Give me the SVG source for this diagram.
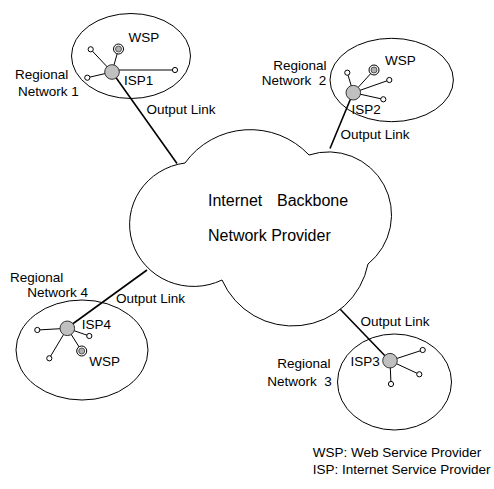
<svg xmlns="http://www.w3.org/2000/svg" width="494" height="489" viewBox="0 0 494 489">
  <style>
    text { font-family: "Liberation Sans", Arial, sans-serif; font-size: 13.5px; fill: #000; white-space: pre; }
    .big { font-size: 16px; }
    .region { fill: none; stroke: #000; stroke-width: 1; }
    .cloud { fill: #fff; stroke: #000; stroke-width: 1; }
    .link { stroke: #000; stroke-width: 1.6; fill: none; }
    .spoke { stroke: #000; stroke-width: 1; fill: none; }
    .isp { fill: #c0c0c0; stroke: #333; stroke-width: 1; }
    .host { fill: #fff; stroke: #000; stroke-width: 1; }
    .wsp-ring { fill: #fff; stroke: #000; stroke-width: 1; }
    .wsp-core { fill: #b0b0b0; stroke: #333; stroke-width: 0.8; }
  </style>

  <!-- output links between each ISP and the backbone -->
  <g id="connectors">
    <line class="link" x1="112" y1="72" x2="177" y2="163.5"/>
    <line class="link" x1="353" y1="93" x2="330" y2="148.5"/>
    <line class="link" x1="67" y1="328" x2="147" y2="270"/>
    <line class="link" x1="390" y1="361" x2="339.5" y2="308.5"/>
    <text x="146.5" y="113.5">Output Link</text>
    <text x="340.5" y="138.5">Output Link</text>
    <text x="116" y="302.5">Output Link</text>
    <text x="360.5" y="326">Output Link</text>
  </g>

  <!-- backbone cloud -->
  <g id="backbone">
    <path class="cloud" d="M 185,163 A 80 79 0 0 1 309,155 A 63 63 0 0 1 368,264 A 77 77 0 0 1 222,280 A 64 62 0 1 1 185,163 Z"/>
    <text class="big" x="208" y="206">Internet</text>
    <text class="big" x="277" y="206">Backbone</text>
    <text class="big" x="208" y="240.5">Network Provider</text>
  </g>

  <!-- regional network 1 -->
  <g id="region1">
    <ellipse class="region" cx="131" cy="56" rx="59.5" ry="42.5"/>
    <line class="spoke" x1="112" y1="72" x2="90.7" y2="49.3"/>
    <line class="spoke" x1="112" y1="72" x2="87.3" y2="77.7"/>
    <line class="spoke" x1="112" y1="70" x2="175" y2="70"/>
    <line class="spoke" x1="112" y1="72" x2="118.5" y2="49"/>
    <circle class="host" cx="90.7" cy="49.3" r="2.6"/>
    <circle class="host" cx="87.3" cy="77.7" r="2.6"/>
    <circle class="host" cx="175" cy="70" r="2.6"/>
    <circle class="wsp-ring" cx="118.5" cy="49" r="5"/>
    <circle class="wsp-core" cx="118.5" cy="49" r="3"/>
    <circle class="isp" cx="112" cy="72" r="7.3"/>
    <text x="128.5" y="41.5">WSP</text>
    <text x="124" y="85">ISP1</text>
    <text x="15" y="78.5">Regional</text>
    <text x="18" y="95.5">Network 1</text>
  </g>

  <!-- regional network 2 -->
  <g id="region2">
    <ellipse class="region" cx="391.7" cy="80" rx="61.7" ry="41.7"/>
    <line class="spoke" x1="353.3" y1="92.7" x2="347.3" y2="72.7"/>
    <line class="spoke" x1="353.3" y1="92.7" x2="374" y2="70"/>
    <line class="spoke" x1="353.3" y1="92.7" x2="389.3" y2="80"/>
    <line class="spoke" x1="353.3" y1="92.7" x2="383.3" y2="99.3"/>
    <circle class="host" cx="347.3" cy="72.7" r="2.6"/>
    <circle class="host" cx="389.3" cy="80" r="2.6"/>
    <circle class="host" cx="383.3" cy="99.3" r="2.6"/>
    <circle class="wsp-ring" cx="374" cy="70" r="5"/>
    <circle class="wsp-core" cx="374" cy="70" r="3"/>
    <circle class="isp" cx="353.3" cy="92.7" r="7.3"/>
    <text x="385" y="64.5">WSP</text>
    <text x="351.5" y="114">ISP2</text>
    <text x="273.3" y="70">Regional</text>
    <text x="261.7" y="85">Network  2</text>
  </g>

  <!-- regional network 3 -->
  <g id="region3">
    <ellipse class="region" cx="394.5" cy="382" rx="57" ry="48"/>
    <line class="spoke" x1="390" y1="360.7" x2="422.7" y2="350"/>
    <line class="spoke" x1="390" y1="360.7" x2="419.3" y2="374.3"/>
    <line class="spoke" x1="390" y1="360.7" x2="391" y2="384"/>
    <circle class="host" cx="422.7" cy="350" r="2.6"/>
    <circle class="host" cx="419.3" cy="374.3" r="2.6"/>
    <circle class="host" cx="391" cy="384" r="2.6"/>
    <circle class="isp" cx="390" cy="360.7" r="7.3"/>
    <text x="350.5" y="366">ISP3</text>
    <text x="277.3" y="367.5">Regional</text>
    <text x="267.3" y="386">Network  3</text>
  </g>

  <!-- regional network 4 -->
  <g id="region4">
    <ellipse class="region" cx="82" cy="350" rx="66" ry="50"/>
    <line class="spoke" x1="67.3" y1="328.3" x2="37.3" y2="330"/>
    <line class="spoke" x1="67.3" y1="328.3" x2="89.3" y2="336"/>
    <line class="spoke" x1="67.3" y1="328.3" x2="49.3" y2="358.3"/>
    <line class="spoke" x1="67.3" y1="328.3" x2="81.7" y2="351"/>
    <circle class="host" cx="37.3" cy="330" r="2.6"/>
    <circle class="host" cx="89.3" cy="336" r="2.6"/>
    <circle class="host" cx="49.3" cy="358.3" r="2.6"/>
    <circle class="wsp-ring" cx="81.7" cy="351" r="5"/>
    <circle class="wsp-core" cx="81.7" cy="351" r="3"/>
    <circle class="isp" cx="67.3" cy="328.3" r="7.3"/>
    <text x="81.7" y="328.5">ISP4</text>
    <text x="89.3" y="366">WSP</text>
    <text x="10" y="282">Regional</text>
    <text x="27.3" y="297">Network 4</text>
  </g>

  <!-- abbreviations -->
  <g id="legend">
    <text x="312.7" y="456.7">WSP: Web Service Provider</text>
    <text x="312.7" y="474.3">ISP: Internet Service Provider</text>
  </g>
</svg>
